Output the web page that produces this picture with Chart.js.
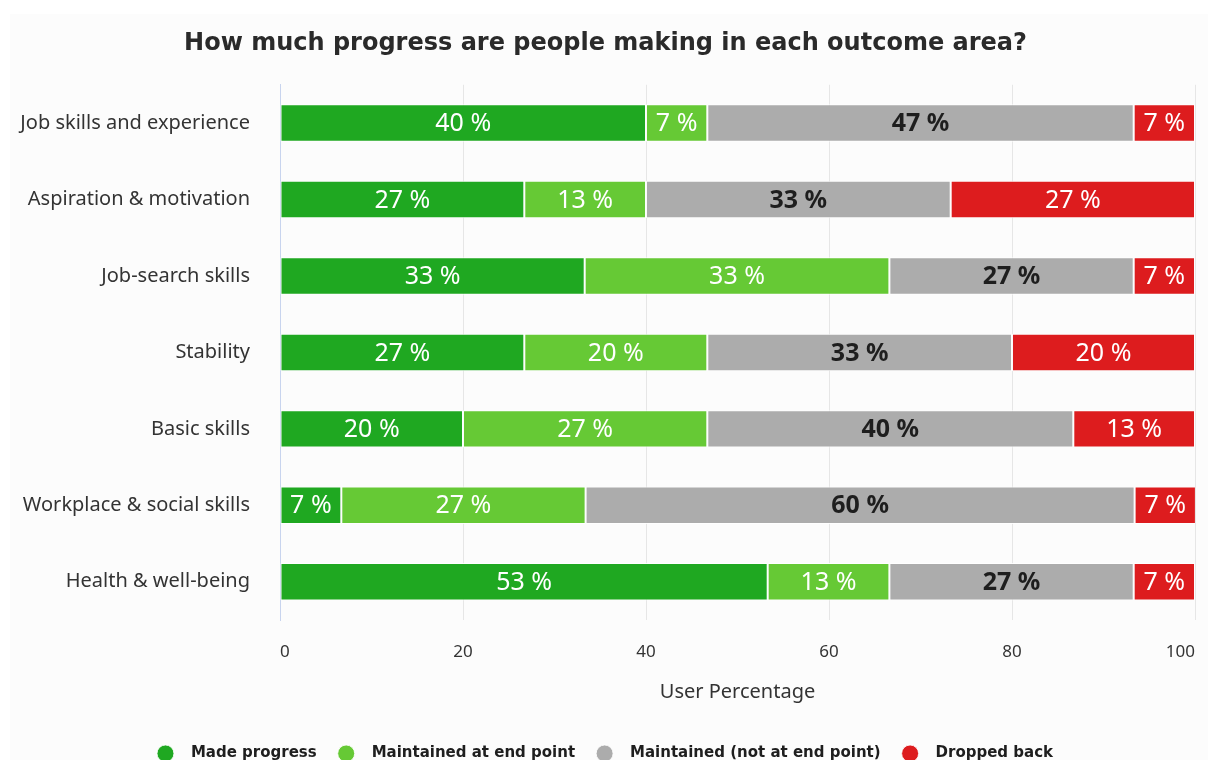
<!DOCTYPE html>
<html>
<head>
<meta charset="utf-8">
<script src="https://cdn.jsdelivr.net/npm/chart.js@4"></script>
<style>
  html, body { margin: 0; padding: 0; background: #ffffff; }
  #wrap { width: 1208px; height: 760px; }
</style>
</head>
<body>
<div id="wrap"><canvas id="chart"></canvas></div>
<script>
// outcome areas, top to bottom
const areas = [
    'Job skills and experience',
    'Aspiration & motivation',
    'Job-search skills',
    'Stability',
    'Basic skills',
    'Workplace & social skills',
    'Health & well-being'
];

// share of users in each group (%)
const madeProgress   = [40.0, 26.7, 33.3, 26.7, 20.0, 6.7, 53.3];
const maintainedEnd  = [6.7, 13.3, 33.3, 20.0, 26.7, 26.7, 13.3];
const maintainedMid  = [46.6, 33.3, 26.7, 33.3, 40.0, 60.0, 26.7];
const droppedBack    = [6.7, 26.7, 6.7, 20.0, 13.3, 6.7, 6.7];

const seriesNames = ['Made progress', 'Maintained at end point', 'Maintained (not at end point)', 'Dropped back'];
const xTicks = [0, 20, 40, 60, 80, 100];

const FONT = "'Noto Sans', sans-serif";
const BOLD_FONT = "'DejaVu Sans', sans-serif";

// light panel behind the chart
const panelBg = {
    id: 'panelBg',
    beforeDraw(chart) {
        const { ctx, width, height } = chart;
        ctx.save();
        ctx.fillStyle = '#fcfcfc';
        ctx.fillRect(10, 14, width - 10, height - 14);
        ctx.restore();
    }
};

// percentage labels inside each segment
const segLabels = {
    id: 'segLabels',
    afterDatasetsDraw(chart) {
        const { ctx } = chart;
        ctx.save();
        ctx.textAlign = 'center';
        ctx.textBaseline = 'middle';
        chart.data.datasets.forEach((ds, i) => {
            const meta = chart.getDatasetMeta(i);
            const dark = i === 2;
            ctx.font = (dark ? 'bold ' : '') + '25px ' + FONT;
            ctx.fillStyle = dark ? '#1e1e1e' : '#ffffff';
            meta.data.forEach((bar, j) => {
                const v = ds.data[j];
                const cx = (bar.x + bar.base) / 2;
                ctx.fillText(Math.round(v) + ' %', cx, bar.y + 1);
            });
        });
        ctx.restore();
    }
};

new Chart(document.getElementById('chart'), {
    type: 'bar',
    data: {
        labels: areas,
        datasets: [
            { label: seriesNames[0], data: madeProgress,  backgroundColor: '#1fa821' },
            { label: seriesNames[1], data: maintainedEnd, backgroundColor: '#66c935' },
            { label: seriesNames[2], data: maintainedMid, backgroundColor: '#acacac' },
            { label: seriesNames[3], data: droppedBack,   backgroundColor: '#dd1c1e' }
        ]
    },
    options: {
        indexAxis: 'y',
        responsive: true,
        maintainAspectRatio: false,
        animation: false,
        layout: { padding: { top: 24, left: 16, right: 13, bottom: -11 } },
        datasets: {
            bar: {
                categoryPercentage: 1,
                barPercentage: 0.49,
                borderWidth: 1,
                borderColor: 'rgba(255,255,255,0.85)',
                borderSkipped: false
            }
        },
        plugins: {
            title: {
                display: true,
                text: 'How much progress are people making in each outcome area?',
                color: '#2a2a2a',
                font: { family: BOLD_FONT, size: 24, weight: 'bold' },
                padding: { top: 5, bottom: 27 }
            },
            legend: {
                position: 'bottom',
                labels: {
                    usePointStyle: true,
                    pointStyle: 'circle',
                    boxHeight: 12,
                    padding: 22,
                    color: '#1e1e1e',
                    font: { family: BOLD_FONT, size: 15, weight: 'bold' },
                    generateLabels(chart) {
                        const items = Chart.defaults.plugins.legend.labels.generateLabels(chart);
                        items.forEach(it => { it.text = '  ' + it.text; });
                        return items;
                    }
                }
            },
            tooltip: { enabled: false }
        },
        scales: {
            x: {
                stacked: true,
                min: 0,
                max: 100,
                afterBuildTicks(scale) {
                    scale.ticks = xTicks.map(v => ({ value: v }));
                },
                afterFit(scale) {
                    scale.height = 104;
                    scale.paddingLeft = 0;
                    scale.paddingRight = 0;
                },
                grid: { color: '#e6e6e6', drawTicks: false },
                border: { display: false },
                ticks: {
                    padding: 22,
                    align: 'inner',
                    color: '#333333',
                    font: { family: FONT, size: 17 }
                },
                title: {
                    display: true,
                    text: 'User Percentage',
                    color: '#333333',
                    font: { family: FONT, size: 20 },
                    padding: { top: 0, bottom: 20 }
                }
            },
            y: {
                stacked: true,
                afterFit(scale) { scale.width = 264; },
                grid: { display: false, drawTicks: false },
                border: { display: true, color: '#c8d4ee', width: 1 },
                ticks: {
                    padding: 30,
                    color: '#333333',
                    font: { family: FONT, size: 20 }
                }
            }
        }
    },
    plugins: [panelBg, segLabels]
});
</script>
</body>
</html>
